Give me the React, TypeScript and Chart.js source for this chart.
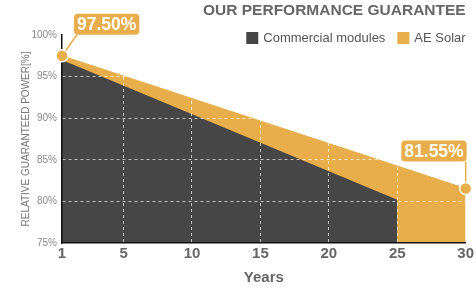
import React, { useEffect, useRef } from "react";
import { Chart, registerables } from "chart.js";

Chart.register(...registerables);

const titleText = "OUR PERFORMANCE GUARANTEE";
const tickYears = [1, 5, 10, 15, 20, 25, 30];
const yTicks = [75, 80, 85, 90, 95, 100];
// where year 1 sits on the drawn axis (the axis starts half a year early)
const axisStart = 0.5;

const commercialLabel = "Commercial modules";
const commercialYears = [1, 25, 25];
const commercialValues = [97, 80.2, 75];

const aeLabel = "AE Solar";
const aeYears = [1, 30];
const aeValues = [97.5, 81.55];

const DARK = "#464646";
const ORANGE = "#E8AE4B";
const FONT = "'Liberation Sans', Arial, sans-serif";

const pos = (year: number) => (year === tickYears[0] ? axisStart : year);

const callouts = [
  { index: 0, side: "right" as const },
  { index: aeValues.length - 1, side: "above" as const },
];

const overlayPlugin = {
  id: "overlay",
  afterDraw(chart: any) {
    const { ctx, chartArea } = chart;
    ctx.save();
    // Title
    ctx.font = `bold 15.5px ${FONT}`;
    ctx.fillStyle = "#666";
    ctx.textAlign = "right";
    ctx.textBaseline = "middle";
    ctx.fillText(titleText, chartArea.right, 11);

    // Legend
    ctx.font = `13px ${FONT}`;
    const items = chart.data.datasets.map((d: any) => ({
      label: d.label,
      color: d.backgroundColor,
    }));
    const box = 12;
    const gapBoxText = 5;
    const gapItems = 12;
    const widths = items.map((it: any) => box + gapBoxText + ctx.measureText(it.label).width);
    const total = widths.reduce((a: number, b: number) => a + b, 0) + gapItems * (items.length - 1);
    let x = chartArea.right - total;
    const ly = 38;
    items.forEach((it: any, i: number) => {
      ctx.fillStyle = it.color;
      ctx.fillRect(x, ly - box / 2, box, box);
      ctx.fillStyle = "#555";
      ctx.textAlign = "left";
      ctx.fillText(it.label, x + box + gapBoxText, ly + 0.5);
      x += widths[i] + gapItems;
    });

    // Callouts + dots for AE Solar endpoints
    const meta = chart.getDatasetMeta(1);
    callouts.forEach((c) => {
      const pt = meta.data[c.index];
      if (!pt) return;
      const px = pt.x;
      const py = pt.y;
      const text = aeValues[c.index].toFixed(2) + "%";
      ctx.font = `bold 17.5px ${FONT}`;
      const tw = ctx.measureText(text).width;
      const bw = tw + 6;
      const bh = 21;
      let bx: number, by: number, lx1: number, ly1: number;
      if (c.side === "right") {
        bx = px + 12;
        by = py - 21 - bh;
        lx1 = bx + 3;
        ly1 = by + bh;
      } else {
        bx = px + 1 - bw;
        by = py - 27 - bh;
        lx1 = px;
        ly1 = by + bh;
      }
      ctx.strokeStyle = ORANGE;
      ctx.lineWidth = 1.5;
      ctx.beginPath();
      ctx.moveTo(px, py);
      ctx.lineTo(lx1, ly1);
      ctx.stroke();

      ctx.fillStyle = ORANGE;
      ctx.beginPath();
      (ctx as any).roundRect(bx, by, bw, bh, 4);
      ctx.fill();
      ctx.fillStyle = "#fff";
      ctx.textAlign = "center";
      ctx.textBaseline = "middle";
      ctx.fillText(text, bx + bw / 2, by + bh / 2 + 1);

      ctx.beginPath();
      ctx.arc(px, py, 6, 0, Math.PI * 2);
      ctx.fillStyle = ORANGE;
      ctx.fill();
      ctx.strokeStyle = "#fff";
      ctx.lineWidth = 1.5;
      ctx.stroke();
    });
    ctx.restore();
  },
};

export default function App() {
  const ref = useRef<HTMLCanvasElement | null>(null);
  useEffect(() => {
    document.body.style.margin = "0";
    if (!ref.current) return;
    const chart = new Chart(ref.current, {
      type: "line",
      data: {
        datasets: [
          {
            label: commercialLabel,
            data: commercialYears.map((y, i) => ({ x: pos(y), y: commercialValues[i] })),
            backgroundColor: DARK,
            borderColor: DARK,
            borderWidth: 0,
            pointRadius: 0,
            fill: "start",
            tension: 0,
          },
          {
            label: aeLabel,
            data: aeYears.map((y, i) => ({ x: pos(y), y: aeValues[i] })),
            backgroundColor: ORANGE,
            borderColor: ORANGE,
            borderWidth: 1,
            pointRadius: 0,
            fill: "start",
            tension: 0,
          },
        ],
      },
      options: {
        animation: false,
        responsive: true,
        maintainAspectRatio: false,
        layout: { padding: { top: 35, right: 10, left: 0, bottom: 0 } },
        plugins: {
          legend: { display: false },
          title: { display: false },
          tooltip: { enabled: false },
        },
        scales: {
          x: {
            type: "linear",
            min: axisStart,
            max: tickYears[tickYears.length - 1],
            afterBuildTicks: (scale: any) => {
              scale.ticks = tickYears.map((y) => ({ value: pos(y) }));
            },
            afterFit: (scale: any) => {
              scale.height = 46;
            },
            ticks: {
              autoSkip: false,
              maxRotation: 0,
              padding: 2,
              color: "#666",
              font: { family: FONT, size: 15, weight: "bold" },
              callback: (v: any) => (v === axisStart ? String(tickYears[0]) : String(v)),
            },
            grid: {
              z: 1,
              drawTicks: false,
              lineWidth: 1,
              color: (c: any) =>
                c.tick && (c.tick.value === axisStart || c.tick.value === tickYears[tickYears.length - 1])
                  ? "rgba(0,0,0,0)"
                  : "rgba(255,255,255,0.65)",
            },
            border: { display: true, z: 2, color: "#111", width: 1.5, dash: [3, 3] },
            title: {
              display: true,
              text: "Years",
              color: "#666",
              font: { family: FONT, size: 15, weight: "bold" },
              padding: { top: 0, bottom: 2 },
            },
          },
          y: {
            min: yTicks[0],
            max: yTicks[yTicks.length - 1],
            afterBuildTicks: (scale: any) => {
              scale.ticks = yTicks.map((v) => ({ value: v }));
            },
            afterFit: (scale: any) => {
              scale.width = 62;
            },
            ticks: {
              padding: 5,
              color: "#888",
              font: { family: FONT, size: 10 },
              callback: (v: any) => v + "%",
            },
            grid: {
              z: 1,
              drawTicks: false,
              lineWidth: 1,
              color: (c: any) =>
                c.tick && (c.tick.value === yTicks[0] || c.tick.value === yTicks[yTicks.length - 1])
                  ? "rgba(0,0,0,0)"
                  : "rgba(255,255,255,0.65)",
            },
            border: { display: true, z: 2, color: "#111", width: 1.5, dash: [3, 3] },
            title: {
              display: true,
              text: "RELATIVE GUARANTEED POWER[%]",
              color: "#777",
              font: { family: FONT, size: 10 },
              padding: { top: 20, bottom: 0 },
            },
          },
        },
      },
      plugins: [overlayPlugin],
    } as any);
    return () => chart.destroy();
  }, []);
  return (
    <div style={{ width: 476, height: 289, position: "relative" }}>
      <canvas ref={ref} />
    </div>
  );
}
